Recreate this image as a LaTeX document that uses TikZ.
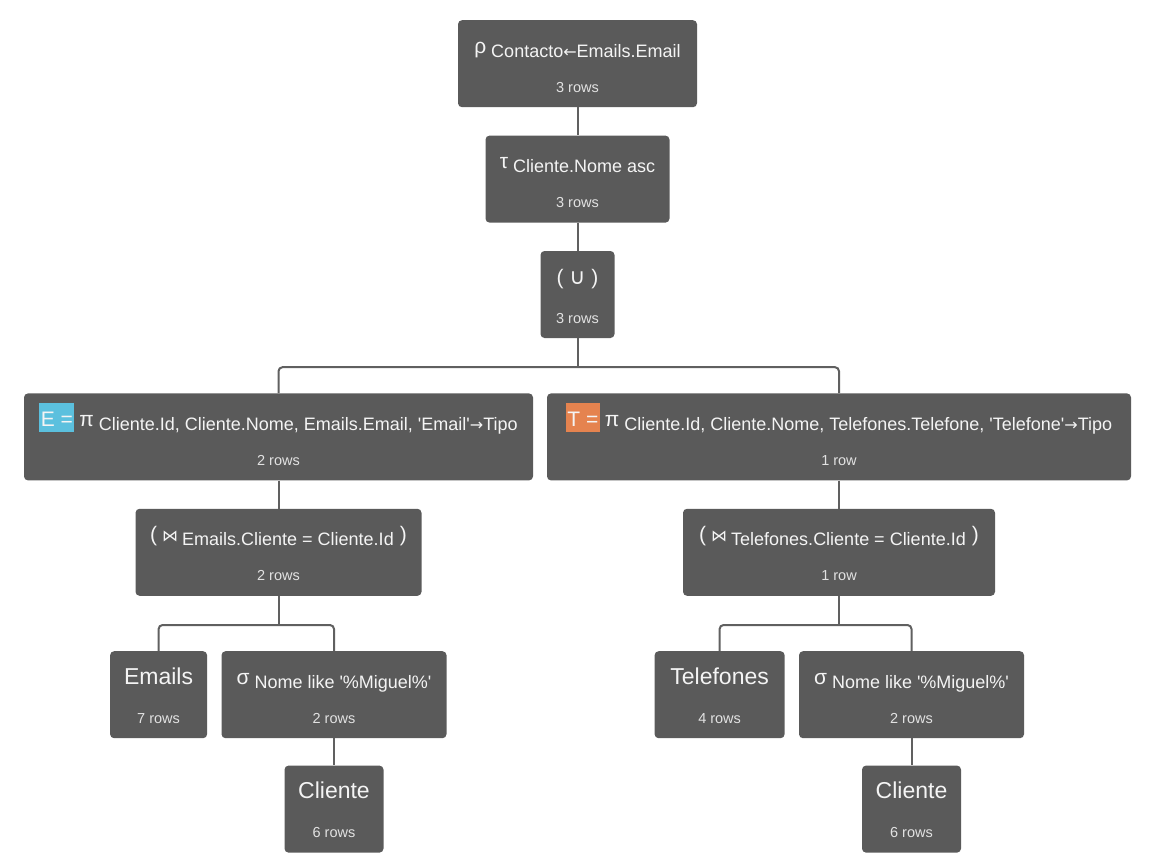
\documentclass[tikz,border=0pt]{standalone}
\usepackage{fontspec}
\setmainfont{Liberation Sans}
\newfontfamily\symfont{DejaVu Sans}
\usetikzlibrary{positioning}

\definecolor{boxgray}{HTML}{5A5A5A}
\definecolor{linegray}{HTML}{606060}
\definecolor{boxtext}{HTML}{F4F4F4}
\definecolor{rowtext}{HTML}{E2E2E2}
\definecolor{emailblue}{HTML}{5BC0DE}
\definecolor{telorange}{HTML}{E5834F}

% operator line on top, row count below
\newcommand{\rowfont}{\fontsize{14.5pt}{16pt}\selectfont\color{rowtext}}
\newcommand{\boxlines}[2]{%
  \vbox{\offinterlineskip\halign{\hfil##\hfil\cr
    \vrule height 33pt width 0pt\smash{#1}\cr
    \vrule height 39pt depth 15pt width 0pt\smash{\rowfont #2}\cr}}}
\newcommand{\opsym}[1]{{\fontsize{21pt}{24pt}\selectfont #1}}
\newcommand{\opsub}[1]{\raisebox{-4pt}{\fontsize{18pt}{20pt}\selectfont #1}}
\newcommand{\op}[2]{\opsym{#1}\hspace{5pt}\opsub{#2}}
\newcommand{\relname}[1]{{\fontsize{23pt}{26pt}\selectfont #1}}
\newcommand{\aliasbox}[2]{{\setlength{\fboxsep}{0pt}\colorbox{#1}{%
  \fontsize{21pt}{24pt}\selectfont\vrule height 23pt depth 6pt width 0pt%
  \hspace{1.5pt}#2\hspace{1.5pt}}}}
\newcommand{\q}{\textquotesingle}
\newcommand{\la}{{\symfont\fontsize{16pt}{18pt}\selectfont ←}}
\newcommand{\ra}{{\symfont\fontsize{16pt}{18pt}\selectfont →}}
\newcommand{\joinsym}{{\symfont\fontsize{16pt}{18pt}\selectfont ⋈}}

\tikzset {
  rel box/.style = {
    fill = boxgray,
    rounded corners = 4pt,
    inner sep = 0pt,
    text = boxtext,
    minimum width = #1
  },
  link/.style = {
    draw = linegray,
    line width = 2pt,
    rounded corners = 4pt
  },
  node distance = 28pt
}

\begin{document}
\begin{tikzpicture}
    \useasboundingbox (0,0) rectangle (1158pt,-865pt);

    \node[rel box=239pt] (rho) [anchor=north] at (577.5pt,-20pt)
      {\boxlines{\op{ρ}{Contacto\la Emails.Email}}{3 rows}};
    \node[rel box=184pt] (tau) [below=of rho]
      {\boxlines{\op{τ}{Cliente.Nome asc}}{3 rows}};
    \node[rel box=74pt] (un) [below=of tau]
      {\boxlines{\opsym{( {\symfont\fontsize{22pt}{24pt}\selectfont ∪} )}}{3 rows}};
    \coordinate [below=29pt of un] (un-split);

    % left branch
    \node[rel box=509pt] (projE) [below=55pt of un, xshift=-299pt]
      {\boxlines{\aliasbox{emailblue}{E =}\hspace{5pt}%
        \op{π}{Cliente.Id, Cliente.Nome, Emails.Email, \q Email\q\ra Tipo}}{2 rows}};
    \node[rel box=286pt] (joinE) [below=of projE]
      {\boxlines{\opsym{(}\hspace{5pt}\joinsym\hspace{4pt}%
        \opsub{Emails.Cliente = Cliente.Id}\hspace{6pt}\opsym{)}}{2 rows}};
    \coordinate [below=29pt of joinE] (joinE-split);
    \node[rel box=225pt] (selE) [below=55pt of joinE, xshift=55.5pt]
      {\boxlines{\op{σ}{Nome like \q\%Miguel\%\q}}{2 rows}};
    \node[rel box=97pt] (emails) [left=14pt of selE]
      {\boxlines{\relname{Emails}}{7 rows}};
    \node[rel box=99pt] (cliE) [below=27pt of selE]
      {\boxlines{\relname{Cliente}}{6 rows}};

    % right branch
    \node[rel box=584pt] (projT) [below=55pt of un, xshift=261.5pt]
      {\boxlines{\aliasbox{telorange}{T =}\hspace{5pt}%
        \op{π}{Cliente.Id, Cliente.Nome, Telefones.Telefone, \q Telefone\q\ra Tipo}}{1 row}};
    \node[rel box=312pt] (joinT) [below=of projT]
      {\boxlines{\opsym{(}\hspace{5pt}\joinsym\hspace{4pt}%
        \opsub{Telefones.Cliente = Cliente.Id}\hspace{6pt}\opsym{)}}{1 row}};
    \coordinate [below=29pt of joinT] (joinT-split);
    \node[rel box=225pt] (selT) [below=55pt of joinT, xshift=72.5pt]
      {\boxlines{\op{σ}{Nome like \q\%Miguel\%\q}}{2 rows}};
    \node[rel box=130pt] (tel) [left=14pt of selT]
      {\boxlines{\relname{Telefones}}{4 rows}};
    \node[rel box=99pt] (cliT) [below=27pt of selT]
      {\boxlines{\relname{Cliente}}{6 rows}};

    \draw[link] (rho) -- (tau);
    \draw[link] (tau) -- (un);
    \draw[link] (un) -- (un-split);
    \draw[link] (projE) |- (un-split) -| (projT);
    \draw[link] (projE) -- (joinE);
    \draw[link] (joinE) -- (joinE-split);
    \draw[link] (emails) |- (joinE-split) -| (selE);
    \draw[link] (selE) -- (cliE);
    \draw[link] (projT) -- (joinT);
    \draw[link] (joinT) -- (joinT-split);
    \draw[link] (tel) |- (joinT-split) -| (selT);
    \draw[link] (selT) -- (cliT);
\end{tikzpicture}
\end{document}
